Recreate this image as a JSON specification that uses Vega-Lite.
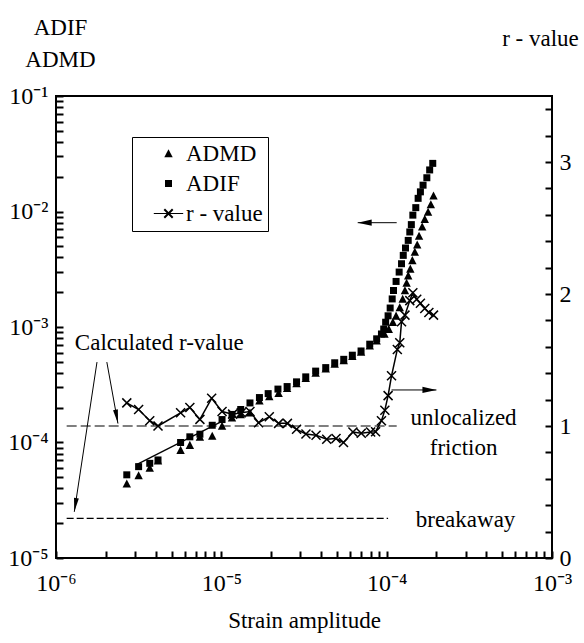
{
  "$schema": "https://vega.github.io/schema/vega-lite/v6.json",
  "width": 496,
  "height": 462,
  "autosize": {"type": "none"},
  "padding": {"left": 56, "top": 96, "right": 32, "bottom": 85},
  "background": "white",
  "datasets": {
    "pts": [
      {"series":"ADIF","x":2.68e-6,"y":5.25e-5},{"series":"ADIF","x":3.16e-6,"y":6.18e-5},{"series":"ADIF","x":3.69e-6,"y":6.6e-5},{"series":"ADIF","x":4.14e-6,"y":7.06e-5},{"series":"ADIF","x":5.67e-6,"y":1.0e-4},{"series":"ADIF","x":6.45e-6,"y":1.12e-4},{"series":"ADIF","x":7.42e-6,"y":1.18e-4},{"series":"ADIF","x":8.81e-6,"y":1.41e-4},{"series":"ADIF","x":1.01e-5,"y":1.58e-4},{"series":"ADIF","x":1.16e-5,"y":1.75e-4},{"series":"ADIF","x":1.31e-5,"y":1.93e-4},{"series":"ADIF","x":1.49e-5,"y":2.2e-4},{"series":"ADIF","x":1.7e-5,"y":2.45e-4},{"series":"ADIF","x":1.92e-5,"y":2.65e-4},{"series":"ADIF","x":2.2e-5,"y":2.9e-4},{"series":"ADIF","x":2.5e-5,"y":3.05e-4},{"series":"ADIF","x":2.85e-5,"y":3.35e-4},{"series":"ADIF","x":3.24e-5,"y":3.7e-4},{"series":"ADIF","x":3.72e-5,"y":4.15e-4},{"series":"ADIF","x":4.28e-5,"y":4.45e-4},{"series":"ADIF","x":4.85e-5,"y":4.9e-4},{"series":"ADIF","x":5.5e-5,"y":5.25e-4},{"series":"ADIF","x":6.2e-5,"y":5.7e-4},{"series":"ADIF","x":7.0e-5,"y":6.2e-4},{"series":"ADIF","x":7.9e-5,"y":7.1e-4},{"series":"ADIF","x":8.7e-5,"y":7.9e-4},{"series":"ADIF","x":9.3e-5,"y":8.7e-4},{"series":"ADIF","x":9.6e-5,"y":9.6e-4},{"series":"ADIF","x":9.86e-5,"y":1.1e-3},{"series":"ADIF","x":1.02e-4,"y":1.25e-3},{"series":"ADIF","x":1.05e-4,"y":1.46e-3},{"series":"ADIF","x":1.08e-4,"y":1.75e-3},{"series":"ADIF","x":1.1e-4,"y":2.07e-3},{"series":"ADIF","x":1.14e-4,"y":2.48e-3},{"series":"ADIF","x":1.19e-4,"y":2.99e-3},{"series":"ADIF","x":1.23e-4,"y":3.53e-3},{"series":"ADIF","x":1.26e-4,"y":4.17e-3},{"series":"ADIF","x":1.3e-4,"y":4.83e-3},{"series":"ADIF","x":1.35e-4,"y":5.62e-3},{"series":"ADIF","x":1.38e-4,"y":6.65e-3},{"series":"ADIF","x":1.41e-4,"y":7.7e-3},{"series":"ADIF","x":1.44e-4,"y":9.3e-3},{"series":"ADIF","x":1.5e-4,"y":1.08e-2},{"series":"ADIF","x":1.55e-4,"y":1.3e-2},{"series":"ADIF","x":1.6e-4,"y":1.48e-2},{"series":"ADIF","x":1.66e-4,"y":1.69e-2},{"series":"ADIF","x":1.75e-4,"y":1.96e-2},{"series":"ADIF","x":1.82e-4,"y":2.29e-2},{"series":"ADIF","x":1.9e-4,"y":2.61e-2},
      {"series":"ADMD","x":2.68e-6,"y":4.4e-5},{"series":"ADMD","x":3.16e-6,"y":5.18e-5},{"series":"ADMD","x":3.69e-6,"y":6.03e-5},{"series":"ADMD","x":4.14e-6,"y":6.96e-5},{"series":"ADMD","x":5.67e-6,"y":8.6e-5},{"series":"ADMD","x":6.45e-6,"y":9.5e-5},{"series":"ADMD","x":7.42e-6,"y":1.12e-4},{"series":"ADMD","x":8.81e-6,"y":1.14e-4},{"series":"ADMD","x":1.01e-5,"y":1.39e-4},{"series":"ADMD","x":1.16e-5,"y":1.64e-4},{"series":"ADMD","x":1.31e-5,"y":1.75e-4},{"series":"ADMD","x":1.49e-5,"y":1.81e-4},{"series":"ADMD","x":1.7e-5,"y":2.3e-4},{"series":"ADMD","x":1.95e-5,"y":2.51e-4},{"series":"ADMD","x":2.22e-5,"y":2.68e-4},{"series":"ADMD","x":2.5e-5,"y":2.95e-4},{"series":"ADMD","x":2.85e-5,"y":3.25e-4},{"series":"ADMD","x":3.24e-5,"y":3.6e-4},{"series":"ADMD","x":3.72e-5,"y":4.0e-4},{"series":"ADMD","x":4.28e-5,"y":4.35e-4},{"series":"ADMD","x":4.85e-5,"y":4.8e-4},{"series":"ADMD","x":5.5e-5,"y":5.15e-4},{"series":"ADMD","x":6.2e-5,"y":5.6e-4},{"series":"ADMD","x":7.0e-5,"y":6.1e-4},{"series":"ADMD","x":7.9e-5,"y":6.9e-4},{"series":"ADMD","x":8.7e-5,"y":7.6e-4},{"series":"ADMD","x":9.7e-5,"y":8.7e-4},{"series":"ADMD","x":1.03e-4,"y":9.6e-4},{"series":"ADMD","x":1.09e-4,"y":1.1e-3},{"series":"ADMD","x":1.14e-4,"y":1.25e-3},{"series":"ADMD","x":1.2e-4,"y":1.48e-3},{"series":"ADMD","x":1.25e-4,"y":1.75e-3},{"series":"ADMD","x":1.29e-4,"y":2.07e-3},{"series":"ADMD","x":1.32e-4,"y":2.41e-3},{"series":"ADMD","x":1.35e-4,"y":2.79e-3},{"series":"ADMD","x":1.39e-4,"y":3.19e-3},{"series":"ADMD","x":1.43e-4,"y":3.78e-3},{"series":"ADMD","x":1.48e-4,"y":4.46e-3},{"series":"ADMD","x":1.53e-4,"y":5.17e-3},{"series":"ADMD","x":1.57e-4,"y":6.15e-3},{"series":"ADMD","x":1.64e-4,"y":7.4e-3},{"series":"ADMD","x":1.7e-4,"y":8.6e-3},{"series":"ADMD","x":1.78e-4,"y":9.9e-3},{"series":"ADMD","x":1.85e-4,"y":1.15e-2},{"series":"ADMD","x":1.92e-4,"y":1.37e-2}
    ],
    "rv": [
      {"x":2.68e-6,"r":1.175},{"x":3.16e-6,"r":1.125},{"x":3.69e-6,"r":1.04},{"x":4.14e-6,"r":1.0},{"x":5.67e-6,"r":1.10},{"x":6.45e-6,"r":1.14},{"x":7.42e-6,"r":1.05},{"x":8.74e-6,"r":1.21},{"x":1.01e-5,"r":1.11},{"x":1.17e-5,"r":1.09},{"x":1.32e-5,"r":1.10},{"x":1.49e-5,"r":1.11},{"x":1.68e-5,"r":1.025},{"x":1.95e-5,"r":1.07},{"x":2.22e-5,"r":1.02},{"x":2.51e-5,"r":1.02},{"x":2.85e-5,"r":0.975},{"x":3.25e-5,"r":0.94},{"x":3.74e-5,"r":0.93},{"x":4.34e-5,"r":0.90},{"x":4.94e-5,"r":0.905},{"x":5.48e-5,"r":0.875},{"x":6.25e-5,"r":0.955},{"x":7.02e-5,"r":0.945},{"x":8.0e-5,"r":0.955},{"x":8.57e-5,"r":0.957},{"x":9.3e-5,"r":1.04},{"x":9.75e-5,"r":1.12},{"x":1.02e-4,"r":1.23},{"x":1.07e-4,"r":1.38},{"x":1.16e-4,"r":1.58},{"x":1.2e-4,"r":1.63},{"x":1.23e-4,"r":1.79},{"x":1.29e-4,"r":1.84},{"x":1.38e-4,"r":1.95},{"x":1.44e-4,"r":2.01},{"x":1.52e-4,"r":1.96},{"x":1.6e-4,"r":1.93},{"x":1.7e-4,"r":1.89},{"x":1.8e-4,"r":1.86},{"x":1.92e-4,"r":1.84}
    ],
    "refs": [
      {"name":"unlocalized","x1":1.16e-6,"x2":1.15e-4,"r":1.0},
      {"name":"breakaway","x1":1.16e-6,"x2":1.02e-4,"r":0.30}
    ],
    "fit": [{"x":3.07e-6,"y":6.44e-5},{"x":1.05e-5,"y":1.57e-4}],
    "arrows": [
      {"id":"a","x1":1.77e-6,"y1":4.97e-4,"x2":1.29e-6,"y2":2.51e-5},
      {"id":"b","x1":2.03e-6,"y1":4.97e-4,"x2":2.37e-6,"y2":1.46e-4},
      {"id":"c","x1":1.15e-4,"y1":8.0e-3,"x2":6.68e-5,"y2":8.0e-3},
      {"id":"d","x1":1.07e-4,"y1":2.85e-4,"x2":2.0e-4,"y2":2.85e-4}
    ],
    "notesLeft": [{"x":1.30e-6,"y":6.32e-4,"text":"Calculated r-value"}],
    "notesCenter": [
      {"x":2.92e-4,"y":1.42e-4,"text":"unlocalized"},
      {"x":2.92e-4,"y":7.8e-5,"text":"friction"},
      {"x":3.0e-4,"y":1.85e-5,"text":"breakaway"}
    ]
  },
  "layer": [
    {
      "layer": [
        {
          "data": {"name": "fit"},
          "mark": {"type": "line", "color": "black", "strokeWidth": 1.3},
          "encoding": {
            "x": {"field": "x", "type": "quantitative", "scale": {"type": "log", "domain": [1e-6, 1e-3]}},
            "y": {"field": "y", "type": "quantitative", "scale": {"type": "log", "domain": [1e-5, 1e-1]}}
          }
        },
        {
          "data": {"name": "pts"},
          "mark": {"type": "point", "filled": true, "color": "black", "size": 196, "opacity": 1},
          "encoding": {
            "x": {
              "field": "x", "type": "quantitative",
              "scale": {"type": "log", "domain": [1e-6, 1e-3]},
              "axis": {
                "title": "Strain amplitude",
                "values": [1e-6,2e-6,3e-6,4e-6,5e-6,6e-6,7e-6,8e-6,9e-6,1e-5,2e-5,3e-5,4e-5,5e-5,6e-5,7e-5,8e-5,9e-5,1e-4,2e-4,3e-4,4e-4,5e-4,6e-4,7e-4,8e-4,9e-4,1e-3],
                "tickCount": 200,
                "labelExpr": "abs(log(datum.value)/LN10 - round(log(datum.value)/LN10)) < 0.01 ? '10⁻' + ['⁰','¹','²','³','⁴','⁵','⁶'][-round(log(datum.value)/LN10)] : ''",
                "labelFontSize": {"condition": {"test": "abs(log(datum.value)/LN10 - round(log(datum.value)/LN10)) > 0.01", "value": 1}, "value": 24},
                "labelOverlap": false,
                "labelPadding": 13,
                "labelBaseline": "top",
                "titlePadding": 14
              }
            },
            "y": {
              "field": "y", "type": "quantitative",
              "scale": {"type": "log", "domain": [1e-5, 1e-1]},
              "axis": {
                "orient": "left",
                "title": ["ADIF", "ADMD"],
                "titleAngle": 0,
                "titleX": -3,
                "titleY": -62,
                "titleAlign": "center",
                "titleBaseline": "alphabetic",
                "titleLineHeight": 32,
                "values": [1e-5,2e-5,3e-5,4e-5,5e-5,6e-5,7e-5,8e-5,9e-5,1e-4,2e-4,3e-4,4e-4,5e-4,6e-4,7e-4,8e-4,9e-4,1e-3,2e-3,3e-3,4e-3,5e-3,6e-3,7e-3,8e-3,9e-3,1e-2,2e-2,3e-2,4e-2,5e-2,6e-2,7e-2,8e-2,9e-2,1e-1],
                "tickCount": 200,
                "labelExpr": "abs(log(datum.value)/LN10 - round(log(datum.value)/LN10)) < 0.01 ? '10⁻' + ['⁰','¹','²','³','⁴','⁵','⁶'][-round(log(datum.value)/LN10)] : ''",
                "labelFontSize": {"condition": {"test": "abs(log(datum.value)/LN10 - round(log(datum.value)/LN10)) > 0.01", "value": 1}, "value": 24},
                "labelOverlap": false,
                "labelPadding": 8
              }
            },
            "shape": {
              "field": "series", "type": "nominal",
              "scale": {
                "domain": ["ADMD", "ADIF", "r - value"],
                "range": [
                  "M0,-0.6L0.6,0.55L-0.6,0.55Z",
                  "M-0.5,-0.5L0.5,-0.5L0.5,0.5L-0.5,0.5Z",
                  "M-2.1,-0.08L2.1,-0.08L2.1,0.08L-2.1,0.08ZM-0.5,-0.7L0.7,0.5L0.5,0.7L-0.7,-0.5ZM-0.7,0.5L0.5,-0.7L0.7,-0.5L-0.5,0.7Z"
                ]
              },
              "legend": {
                "title": null,
                "orient": "none",
                "legendX": 76,
                "legendY": 41,
                "padding": 5,
                "symbolOffset": 20,
                "labelOffset": 6,
                "rowPadding": 6,
                "symbolSize": 196,
                "labelFont": "Liberation Serif",
                "labelFontSize": 23,
                "labelColor": "black",
                "strokeColor": "black",
                "symbolFillColor": "black",
                "symbolOpacity": 1
              }
            }
          }
        },
        {
          "data": {"name": "arrows"},
          "mark": {"type": "rule", "color": "black", "strokeWidth": 1},
          "encoding": {
            "x": {"field": "x1", "type": "quantitative"},
            "x2": {"field": "x2"},
            "y": {"field": "y1", "type": "quantitative"},
            "y2": {"field": "y2"}
          }
        },
        {
          "data": {"name": "arrows"},
          "transform": [{"filter": "datum.id == 'a'"}],
          "mark": {"type": "point", "shape": "M0,0L0.35,2L-0.35,2Z", "filled": true, "color": "black", "size": 196, "angle": 188.8, "opacity": 1},
          "encoding": {"x": {"field": "x2", "type": "quantitative"}, "y": {"field": "y2", "type": "quantitative"}}
        },
        {
          "data": {"name": "arrows"},
          "transform": [{"filter": "datum.id == 'b'"}],
          "mark": {"type": "point", "shape": "M0,0L0.35,2L-0.35,2Z", "filled": true, "color": "black", "size": 196, "angle": 169.8, "opacity": 1},
          "encoding": {"x": {"field": "x2", "type": "quantitative"}, "y": {"field": "y2", "type": "quantitative"}}
        },
        {
          "data": {"name": "arrows"},
          "transform": [{"filter": "datum.id == 'c'"}],
          "mark": {"type": "point", "shape": "M0,0L0.45,2L-0.45,2Z", "filled": true, "color": "black", "size": 196, "angle": 270, "opacity": 1},
          "encoding": {"x": {"field": "x2", "type": "quantitative"}, "y": {"field": "y2", "type": "quantitative"}}
        },
        {
          "data": {"name": "arrows"},
          "transform": [{"filter": "datum.id == 'd'"}],
          "mark": {"type": "point", "shape": "M0,0L0.45,2L-0.45,2Z", "filled": true, "color": "black", "size": 196, "angle": 90, "opacity": 1},
          "encoding": {"x": {"field": "x2", "type": "quantitative"}, "y": {"field": "y2", "type": "quantitative"}}
        },
        {
          "data": {"name": "notesLeft"},
          "mark": {"type": "text", "align": "left", "baseline": "alphabetic", "font": "Liberation Serif", "fontSize": 23, "color": "black"},
          "encoding": {"x": {"field": "x", "type": "quantitative"}, "y": {"field": "y", "type": "quantitative"}, "text": {"field": "text"}}
        },
        {
          "data": {"name": "notesCenter"},
          "mark": {"type": "text", "align": "center", "baseline": "alphabetic", "font": "Liberation Serif", "fontSize": 23, "color": "black"},
          "encoding": {"x": {"field": "x", "type": "quantitative"}, "y": {"field": "y", "type": "quantitative"}, "text": {"field": "text"}}
        }
      ]
    },
    {
      "layer": [
        {
          "data": {"name": "refs"},
          "transform": [{"filter": "datum.name == 'unlocalized'"}],
          "mark": {"type": "rule", "color": "black", "strokeWidth": 1.2, "strokeDash": [10, 4]},
          "encoding": {
            "x": {"field": "x1", "type": "quantitative"},
            "x2": {"field": "x2"},
            "y": {"field": "r", "type": "quantitative", "scale": {"domain": [0, 3.5]}}
          }
        },
        {
          "data": {"name": "refs"},
          "transform": [{"filter": "datum.name == 'breakaway'"}],
          "mark": {"type": "rule", "color": "black", "strokeWidth": 1.2, "strokeDash": [7, 3]},
          "encoding": {
            "x": {"field": "x1", "type": "quantitative"},
            "x2": {"field": "x2"},
            "y": {"field": "r", "type": "quantitative", "scale": {"domain": [0, 3.5]}}
          }
        },
        {
          "data": {"name": "rv"},
          "mark": {"type": "line", "color": "black", "strokeWidth": 1.5},
          "encoding": {
            "x": {"field": "x", "type": "quantitative"},
            "y": {"field": "r", "type": "quantitative", "scale": {"domain": [0, 3.5]}}
          }
        },
        {
          "data": {"name": "rv"},
          "mark": {"type": "point", "shape": "M-1,-1L1,1M-1,1L1,-1", "filled": false, "color": "black", "strokeWidth": 1.5, "size": 81, "opacity": 1},
          "encoding": {
            "x": {"field": "x", "type": "quantitative"},
            "y": {
              "field": "r", "type": "quantitative",
              "scale": {"domain": [0, 3.5], "nice": false, "zero": true},
              "axis": {
                "orient": "right",
                "title": "r - value",
                "titleAngle": 0,
                "titleX": -5,
                "titleY": -51,
                "titleAlign": "center",
                "titleBaseline": "alphabetic",
                "values": [0,0.2,0.4,0.6,0.8,1,1.2,1.4,1.6,1.8,2,2.2,2.4,2.6,2.8,3,3.2,3.4],
                "tickCount": 200,
                "labelExpr": "abs(datum.value - round(datum.value)) < 0.01 ? format(datum.value, 'd') : ''",
                "labelFontSize": {"condition": {"test": "abs(datum.value - round(datum.value)) > 0.01", "value": 1}, "value": 24},
                "labelOverlap": false,
                "labelPadding": 7
              }
            }
          }
        }
      ]
    }
  ],
  "resolve": {"scale": {"y": "independent"}},
  "config": {
    "view": {"stroke": "black", "strokeWidth": 2},
    "font": "Liberation Serif",
    "axis": {
      "labelFont": "Liberation Serif",
      "titleFont": "Liberation Serif",
      "labelFontSize": 24,
      "titleFontSize": 23,
      "titleFontWeight": "normal",
      "labelColor": "black",
      "titleColor": "black",
      "domain": false,
      "ticks": true,
      "tickColor": "black",
      "tickWidth": 2,
      "tickSize": 7,
      "offset": -7,
      "zindex": 1,
      "grid": false,
      "labelOverlap": false,
      "labelFlush": false,
      "labelBound": false
    }
  }
}
